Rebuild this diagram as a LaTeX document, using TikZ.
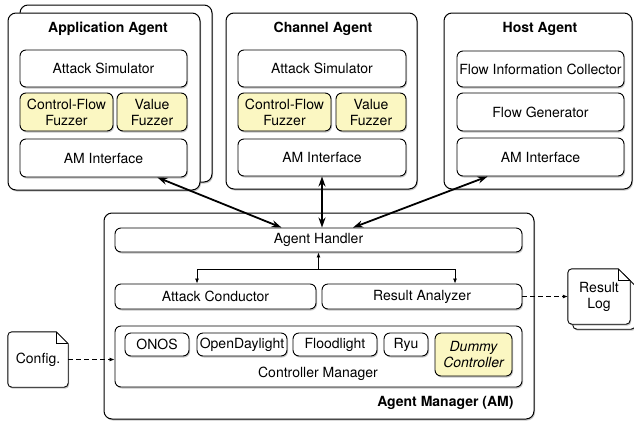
\documentclass[tikz,border=0pt]{standalone}
\usepackage{fontspec}
\setmainfont{TeX Gyre Heros}
\usetikzlibrary{arrows.meta,shadows,backgrounds}
\definecolor{fuzzyellow}{HTML}{FBF7C2}

\begin{document}
\begin{tikzpicture}[x=1pt,y=-1pt,
  font=\fontsize{14}{16}\selectfont,
  boxshadow/.style={drop shadow={shadow xshift=1pt,shadow yshift=-1.5pt,fill=black!45,opacity=0.5}},
  agent/.style={draw,line width=1pt,rounded corners=8pt,fill=white,boxshadow,inner sep=0pt},
  part/.style={draw,line width=0.9pt,rounded corners=6pt,fill=white,boxshadow,inner sep=1pt,align=center},
  fuzz/.style={part,fill=fuzzyellow},
  title/.style={font=\fontsize{14}{16}\selectfont\bfseries},
  bigarrow/.style={{Stealth[length=10pt,width=7pt]}-{Stealth[length=10pt,width=7pt]},line width=1.8pt},
  smallarrow/.style={-{Latex[length=5pt,width=4pt]},line width=0.8pt},
  filearrow/.style={smallarrow,dash pattern=on 5pt off 3pt},
  docline/.style={line width=0.9pt,fill=white,boxshadow}
]
\useasboundingbox (0,0) rectangle (634,421);

\node[agent,minimum width=192pt,minimum height=177pt] (appback) at (116,93.5) {};
\node[agent,minimum width=192pt,minimum height=177pt] (app) at (104,101.5) {};
\node[title] (apptitle) at (108,29) {Application Agent};
\node[part,minimum width=167pt,minimum height=37pt] (appsim) at (103.5,68.5) {Attack Simulator};
\node[fuzz,minimum width=93pt,minimum height=38pt] (appcf) at (66.5,112) {Control-Flow\\Fuzzer};
\node[fuzz,minimum width=70pt,minimum height=38pt] (appval) at (152,112) {Value\\Fuzzer};
\node[part,minimum width=167pt,minimum height=38pt] (appam) at (103.5,158) {AM Interface};

\node[agent,minimum width=191pt,minimum height=176pt] (ch) at (321.5,101) {};
\node[title] (chtitle) at (323,29) {Channel Agent};
\node[part,minimum width=168pt,minimum height=37pt] (chsim) at (322,68.5) {Attack Simulator};
\node[fuzz,minimum width=93pt,minimum height=38pt] (chcf) at (284.5,112) {Control-Flow\\Fuzzer};
\node[fuzz,minimum width=70pt,minimum height=38pt] (chval) at (371,112) {Value\\Fuzzer};
\node[part,minimum width=168pt,minimum height=37pt] (cham) at (322,157.5) {AM Interface};

\node[agent,minimum width=188pt,minimum height=176pt] (host) at (538,101) {};
\node[title] (hosttitle) at (540,29) {Host Agent};
\node[part,minimum width=167pt,minimum height=36pt] (hfic) at (540.5,69) {Flow Information Collector};
\node[part,minimum width=167pt,minimum height=38pt] (hfg) at (540.5,112) {Flow Generator};
\node[part,minimum width=167pt,minimum height=38pt] (ham) at (540.5,157) {AM Interface};

\node[agent,minimum width=430pt,minimum height=206pt] (am) at (319,316) {};
\node[part,minimum width=407pt,minimum height=24pt] (handler) at (318.5,240) {Agent Handler};
\node[part,minimum width=201pt,minimum height=25pt] (conductor) at (215.5,296.5) {Attack Conductor};
\node[part,minimum width=200pt,minimum height=25pt] (analyzer) at (422,296.5) {Result Analyzer};
\node[part,minimum width=407pt,minimum height=61pt] (ctrlmgr) at (318.5,356.5) {};
\node (ctrltitle) at (318,374) {Controller Manager};
\node[part,minimum width=64pt,minimum height=23pt] (onos) at (157,344.5) {ONOS};
\node[part,minimum width=90pt,minimum height=23pt] (odl) at (242,344.5) {OpenDaylight};
\node[part,minimum width=84pt,minimum height=23pt] (flood) at (335,344.5) {Floodlight};
\node[part,minimum width=44pt,minimum height=23pt] (ryu) at (406,344.5) {Ryu};
\node[fuzz,minimum width=77pt,minimum height=43pt,font=\fontsize{14}{16}\selectfont\itshape] (dummy) at (473.5,354.5) {Dummy\\Controller};
\node[title,anchor=east] (amtitle) at (517,403) {Agent Manager (AM)};

\node[minimum width=60pt,minimum height=55pt] (config) at (38,359.5) {Config.};
\node[minimum width=62pt,minimum height=55pt,align=center] (resultlog) at (599,296.5) {Result\\Log};

\begin{scope}[on background layer]
\draw[docline] ([yshift=-12pt]config.north east) -- ([xshift=-12pt]config.north east) [rounded corners=4pt] -- (config.north west) -- (config.south west) -- (config.south east) [sharp corners] -- cycle;
\draw[line width=0.9pt] ([xshift=-12pt]config.north east) -- ([xshift=-12pt,yshift=-12pt]config.north east) -- ([yshift=-12pt]config.north east);

\begin{scope}[transform canvas={xshift=5pt,yshift=-5pt}]
\draw[docline] ([yshift=-12pt]resultlog.north east) -- ([xshift=-12pt]resultlog.north east) [rounded corners=4pt] -- (resultlog.north west) -- (resultlog.south west) -- (resultlog.south east) [sharp corners] -- cycle;
\end{scope}
\draw[docline] ([yshift=-12pt]resultlog.north east) -- ([xshift=-12pt]resultlog.north east) [rounded corners=4pt] -- (resultlog.north west) -- (resultlog.south west) -- (resultlog.south east) [sharp corners] -- cycle;
\draw[line width=0.9pt] ([xshift=-12pt]resultlog.north east) -- ([xshift=-12pt,yshift=-12pt]resultlog.north east) -- ([yshift=-12pt]resultlog.north east);
\end{scope}

\draw[bigarrow] ([xshift=-30pt]appam.south east) -- ([xshift=-37pt]handler.north);
\draw[bigarrow] (cham.south) -- (cham.south |- handler.north);
\draw[bigarrow] ([xshift=31pt]ham.south west) -- ([xshift=34.5pt]handler.north);

\coordinate (split) at (318.5,269);
\draw[smallarrow] (split) -- (handler.south);
\draw[smallarrow] (split) -| ([xshift=-18.5pt]conductor.north);
\draw[smallarrow] (split) -| ([xshift=33pt]analyzer.north);

\draw[filearrow] (config.east) -- (config.east -| ctrlmgr.west);
\draw[filearrow] (analyzer.east) -- (resultlog.west);

\end{tikzpicture}
\end{document}
